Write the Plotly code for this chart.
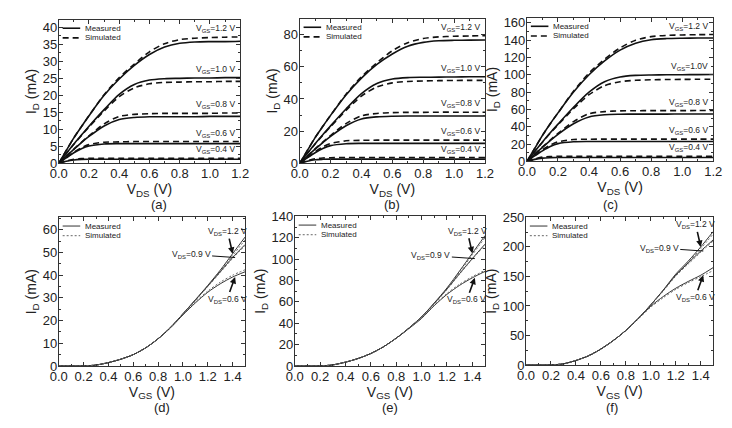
import plotly.graph_objects as go

W, H = 732, 428
FONT = "Liberation Sans, Arial, sans-serif"

# ---------------- Output characteristics (a)-(c) ----------------
vds = [0, 0.05, 0.1, 0.15, 0.2, 0.3, 0.4, 0.5, 0.6, 0.7, 0.8, 0.9, 1.0, 1.1, 1.2]
vgs_labels_abc = ["1.2", "1.0", "0.8", "0.6", "0.4"]

# panel (a)
a_meas_12 = [0, 3.8, 7.5, 10.8, 14.0, 20.0, 24.8, 28.8, 32.0, 34.2, 35.3, 35.7, 35.8, 35.8, 35.9]
a_sim_12 = [0, 3.8, 7.5, 10.8, 14.0, 20.2, 25.2, 29.2, 32.8, 35.2, 36.4, 36.8, 37.0, 37.1, 37.2]
a_meas_10 = [0, 2.9, 5.7, 8.3, 10.9, 15.8, 20.3, 23.2, 24.5, 24.9, 25.0, 25.1, 25.1, 25.2, 25.2]
a_sim_10 = [0, 2.9, 5.6, 8.2, 10.7, 15.4, 19.6, 22.2, 23.4, 23.8, 23.9, 24.0, 24.0, 24.1, 24.1]
a_meas_08 = [0, 2.1, 4.1, 6.1, 7.9, 11.0, 12.9, 13.5, 13.7, 13.7, 13.7, 13.7, 13.8, 13.8, 13.8]
a_sim_08 = [0, 2.1, 4.2, 6.2, 8.1, 11.6, 13.8, 14.4, 14.6, 14.7, 14.7, 14.7, 14.7, 14.8, 14.8]
a_meas_06 = [0, 1.6, 3.1, 4.3, 5.1, 5.7, 5.8, 5.8, 5.8, 5.8, 5.8, 5.8, 5.8, 5.8, 5.8]
a_sim_06 = [0, 1.7, 3.3, 4.6, 5.5, 6.2, 6.3, 6.4, 6.4, 6.4, 6.4, 6.4, 6.4, 6.4, 6.4]
a_meas_04 = [0, 0.6, 1.0, 1.15, 1.2, 1.2, 1.2, 1.2, 1.2, 1.2, 1.2, 1.2, 1.2, 1.2, 1.2]
a_sim_04 = [0, 0.7, 1.2, 1.4, 1.45, 1.5, 1.5, 1.5, 1.5, 1.5, 1.5, 1.5, 1.5, 1.5, 1.5]

# panel (b)
b_meas_12 = [0, 8.0, 16.0, 23.0, 29.8, 42.5, 53.0, 61.5, 68.0, 72.8, 75.2, 76.2, 76.5, 76.6, 76.7]
b_sim_12 = [0, 8.0, 16.0, 23.0, 29.8, 43.0, 53.8, 62.5, 70.0, 75.0, 77.6, 78.6, 79.0, 79.2, 79.4]
b_meas_10 = [0, 6.2, 12.2, 17.8, 23.3, 33.8, 43.3, 49.6, 52.4, 53.3, 53.5, 53.6, 53.7, 53.8, 53.8]
b_sim_10 = [0, 6.2, 12.0, 17.5, 22.8, 32.9, 41.8, 47.5, 50.0, 50.9, 51.2, 51.4, 51.5, 51.6, 51.6]
b_meas_08 = [0, 4.5, 8.8, 12.9, 16.8, 23.4, 27.6, 28.9, 29.3, 29.4, 29.4, 29.4, 29.4, 29.4, 29.4]
b_sim_08 = [0, 4.5, 9.0, 13.2, 17.3, 24.7, 29.5, 31.0, 31.5, 31.7, 31.7, 31.8, 31.8, 31.8, 31.8]
b_meas_06 = [0, 3.4, 6.6, 9.2, 11.0, 12.2, 12.4, 12.4, 12.4, 12.4, 12.4, 12.4, 12.4, 12.4, 12.4]
b_sim_06 = [0, 3.7, 7.2, 10.2, 12.3, 14.0, 14.3, 14.4, 14.4, 14.4, 14.4, 14.4, 14.4, 14.4, 14.4]
b_meas_04 = [0, 1.3, 2.2, 2.5, 2.6, 2.6, 2.6, 2.6, 2.6, 2.6, 2.6, 2.6, 2.6, 2.6, 2.6]
b_sim_04 = [0, 1.6, 2.8, 3.3, 3.5, 3.6, 3.6, 3.6, 3.6, 3.6, 3.6, 3.6, 3.6, 3.6, 3.6]

# panel (c)
c_meas_12 = [0, 15, 30, 43.5, 56, 80, 100, 116, 128.5, 136.5, 140.5, 141.8, 142.2, 142.4, 142.5]
c_sim_12 = [0, 15, 30, 43.5, 56, 81, 102, 118, 131, 140, 144, 145.5, 146, 146.3, 146.5]
c_meas_10 = [0, 11.5, 22.5, 33, 43, 62.5, 80, 92, 97.5, 99.3, 99.8, 100, 100.1, 100.2, 100.3]
c_sim_10 = [0, 11.5, 22.2, 32.5, 42.2, 60.8, 77, 87.5, 92, 93.6, 94.2, 94.5, 94.7, 94.8, 94.9]
c_meas_08 = [0, 8.3, 16.3, 24, 31.3, 43.5, 51.3, 53.8, 54.4, 54.6, 54.6, 54.6, 54.7, 54.7, 54.7]
c_sim_08 = [0, 8.4, 16.7, 24.6, 32.3, 46.0, 55.0, 57.5, 58.3, 58.5, 58.6, 58.6, 58.6, 58.7, 58.7]
c_meas_06 = [0, 6.3, 12.2, 17.2, 20.5, 22.7, 23.0, 23.0, 23.0, 23.0, 23.0, 23.0, 23.0, 23.0, 23.0]
c_sim_06 = [0, 6.8, 13.4, 18.8, 22.6, 25.2, 25.6, 25.7, 25.7, 25.7, 25.7, 25.7, 25.7, 25.7, 25.7]
c_meas_04 = [0, 2.3, 3.8, 4.3, 4.5, 4.5, 4.5, 4.5, 4.5, 4.5, 4.5, 4.5, 4.5, 4.5, 4.5]
c_sim_04 = [0, 2.9, 4.9, 5.6, 5.9, 6.0, 6.0, 6.0, 6.0, 6.0, 6.0, 6.0, 6.0, 6.0, 6.0]

# ---------------- Transfer characteristics (d)-(f) ----------------
vgs = [0, 0.1, 0.2, 0.3, 0.4, 0.5, 0.6, 0.7, 0.8, 0.9, 1.0, 1.1, 1.2, 1.3, 1.4, 1.5]
vds_labels_def = ["1.2", "0.9", "0.6"]

d_meas_12 = [0, 0, 0.05, 0.4, 1.5, 3.0, 5.0, 8.0, 12.0, 17.0, 23.0, 29.2, 35.5, 42.2, 49.5, 56.8]
d_meas_09 = [0, 0, 0.05, 0.4, 1.5, 3.0, 5.0, 8.0, 12.0, 17.0, 23.0, 29.0, 35.2, 41.5, 47.8, 53.5]
d_meas_06 = [0, 0, 0.05, 0.4, 1.5, 3.0, 5.0, 8.0, 12.0, 16.8, 22.5, 27.8, 32.5, 36.2, 39.2, 41.5]
d_sim_12 = [0, 0, 0.05, 0.4, 1.5, 3.0, 5.0, 8.0, 12.0, 17.0, 22.9, 29.0, 35.3, 41.8, 48.6, 55.6]
d_sim_09 = [0, 0, 0.05, 0.4, 1.5, 3.0, 5.0, 8.0, 12.0, 17.0, 22.9, 28.9, 35.0, 41.2, 47.4, 53.0]
d_sim_06 = [0, 0, 0.05, 0.4, 1.5, 3.0, 5.0, 8.0, 12.0, 16.9, 22.8, 28.2, 33.0, 36.9, 40.0, 42.4]

e_meas_12 = [0, 0, 0.1, 1.0, 3.6, 7.0, 11.7, 18.0, 26.0, 35.5, 46.0, 59.0, 73.0, 89.0, 105.5, 122.0]
e_meas_09 = [0, 0, 0.1, 1.0, 3.6, 7.0, 11.7, 18.0, 26.0, 35.5, 46.0, 58.6, 72.0, 86.5, 100.5, 114.0]
e_meas_06 = [0, 0, 0.1, 1.0, 3.6, 7.0, 11.7, 18.0, 26.0, 35.0, 44.5, 56.5, 67.0, 75.5, 82.5, 88.5]
e_sim_12 = [0, 0, 0.1, 1.0, 3.6, 7.0, 11.7, 18.0, 26.0, 35.4, 45.8, 58.5, 72.5, 88.0, 104.0, 120.0]
e_sim_09 = [0, 0, 0.1, 1.0, 3.6, 7.0, 11.7, 18.0, 26.0, 35.4, 45.8, 58.2, 71.5, 86.0, 100.0, 113.0]
e_sim_06 = [0, 0, 0.1, 1.0, 3.6, 7.0, 11.7, 18.0, 26.0, 35.2, 45.0, 57.0, 67.8, 76.5, 83.6, 89.5]

f_meas_12 = [0, 0, 0.2, 2.0, 7.7, 15.5, 27.0, 41.5, 58.5, 79.0, 102.0, 127.0, 154.0, 176.0, 200.0, 226.0]
f_meas_09 = [0, 0, 0.2, 2.0, 7.7, 15.5, 27.0, 41.5, 58.5, 79.0, 102.0, 126.5, 152.0, 173.0, 193.0, 212.0]
f_meas_06 = [0, 0, 0.2, 2.0, 7.7, 15.5, 27.0, 41.5, 58.5, 78.5, 99.5, 116.0, 130.0, 141.5, 152.0, 165.0]
f_sim_12 = [0, 0, 0.2, 2.0, 7.7, 15.5, 27.0, 41.5, 58.5, 79.0, 101.5, 126.0, 152.5, 174.0, 197.0, 222.0]
f_sim_09 = [0, 0, 0.2, 2.0, 7.7, 15.5, 27.0, 41.5, 58.5, 79.0, 101.5, 125.5, 150.5, 171.0, 191.0, 210.0]
f_sim_06 = [0, 0, 0.2, 2.0, 7.7, 15.5, 27.0, 41.5, 58.5, 78.0, 98.0, 114.0, 128.0, 139.5, 149.5, 160.0]

panel_letters = ["(a)", "(b)", "(c)", "(d)", "(e)", "(f)"]
legend_names = ["Measured", "Simulated"]

# ---------------- layout geometry (pixels) ----------------
boxes = {
    1: (51, 237, 13, 162),
    2: (298, 488, 12, 162),
    3: (531, 722, 11, 160),
    4: (51, 242, 218, 372),
    5: (293, 488, 217, 372),
    6: (530, 722, 218, 371),
}
yranges = {1: [0, 42.3], 2: [0, 90], 3: [0, 166], 4: [0, 65.5], 5: [0, 140], 6: [0, 250]}
ydticks = {1: 5, 2: 20, 3: 20, 4: 10, 5: 20, 6: 50}
label_y = {1: 205, 2: 205, 3: 205, 4: 415, 5: 415, 6: 415}

fig = go.Figure()

top_sets = {
    1: [(a_meas_12, a_sim_12), (a_meas_10, a_sim_10), (a_meas_08, a_sim_08), (a_meas_06, a_sim_06), (a_meas_04, a_sim_04)],
    2: [(b_meas_12, b_sim_12), (b_meas_10, b_sim_10), (b_meas_08, b_sim_08), (b_meas_06, b_sim_06), (b_meas_04, b_sim_04)],
    3: [(c_meas_12, c_sim_12), (c_meas_10, c_sim_10), (c_meas_08, c_sim_08), (c_meas_06, c_sim_06), (c_meas_04, c_sim_04)],
}
bot_sets = {
    4: [(d_meas_12, d_sim_12), (d_meas_09, d_sim_09), (d_meas_06, d_sim_06)],
    5: [(e_meas_12, e_sim_12), (e_meas_09, e_sim_09), (e_meas_06, e_sim_06)],
    6: [(f_meas_12, f_sim_12), (f_meas_09, f_sim_09), (f_meas_06, f_sim_06)],
}

def ax_name(i):
    return ("x" if i == 1 else f"x{i}"), ("y" if i == 1 else f"y{i}")

annotations = []
shapes = []

TOP_MEAS = dict(color="#111", width=1.6, shape="spline", smoothing=0.8)
TOP_SIM = dict(color="#111", width=1.6, dash="6px,4px", shape="spline", smoothing=0.8)
BOT_MEAS = dict(color="#333", width=1.0, shape="spline", smoothing=0.8)
BOT_SIM = dict(color="#666", width=1.0, dash="2px,2px", shape="spline", smoothing=0.8)

for i, sets in top_sets.items():
    xa, ya = ax_name(i)
    for k, (m, s) in enumerate(sets):
        fig.add_trace(go.Scatter(x=vds, y=m, mode="lines", name=f"Measured, V_GS={vgs_labels_abc[k]} V",
                                 line=TOP_MEAS, xaxis=xa, yaxis=ya, showlegend=False))
        fig.add_trace(go.Scatter(x=vds, y=s, mode="lines", name=f"Simulated, V_GS={vgs_labels_abc[k]} V",
                                 line=TOP_SIM, xaxis=xa, yaxis=ya, showlegend=False))
        lbl = vgs_labels_abc[k]
        sep = "" if (i == 3 and lbl == "1.0") else " "
        annotations.append(dict(x=vds[-1], y=max(m[-1], s[-1]), xref=xa, yref=ya,
                                text=f"V<sub>GS</sub>={lbl}{sep}V", showarrow=False,
                                xanchor="right", yanchor="bottom", xshift=-3, yshift=1,
                                font=dict(size=8.5, color="#222", family=FONT)))

for i, sets in bot_sets.items():
    xa, ya = ax_name(i)
    for k, (m, s) in enumerate(sets):
        fig.add_trace(go.Scatter(x=vgs, y=m, mode="lines", name=f"Measured, V_DS={vds_labels_def[k]} V",
                                 line=BOT_MEAS, xaxis=xa, yaxis=ya, showlegend=False))
        fig.add_trace(go.Scatter(x=vgs, y=s, mode="lines", name=f"Simulated, V_DS={vds_labels_def[k]} V",
                                 line=BOT_SIM, xaxis=xa, yaxis=ya, showlegend=False))
    idx = vgs.index(1.4)
    m12, m09, m06 = sets[0][0], sets[1][0], sets[2][0]
    fnt = dict(size=8.5, color="#222", family=FONT)
    annotations.append(dict(x=vgs[idx], y=m12[idx], xref=xa, yref=ya, text="V<sub>DS</sub>=1.2 V",
                            showarrow=True, arrowhead=2, arrowsize=0.8, arrowwidth=1.6, arrowcolor="#111",
                            ax=-5, ay=-22, font=fnt))
    annotations.append(dict(x=vgs[idx] + 0.02, y=m09[idx], xref=xa, yref=ya, text="V<sub>DS</sub>=0.9 V",
                            showarrow=True, arrowhead=0, arrowwidth=1.0, arrowcolor="#111",
                            ax=-44, ay=-3, font=fnt))
    annotations.append(dict(x=vgs[idx] + 0.02, y=m06[idx], xref=xa, yref=ya, text="V<sub>DS</sub>=0.6 V",
                            showarrow=True, arrowhead=2, arrowsize=0.8, arrowwidth=1.6, arrowcolor="#111",
                            ax=-8, ay=22, font=fnt))

layout = dict(
    width=W, height=H, margin=dict(l=0, r=0, t=0, b=0),
    paper_bgcolor="white", plot_bgcolor="white",
    font=dict(family=FONT, color="#222", size=13),
    showlegend=False,
)

for i, (l, r, t, b) in boxes.items():
    xa, ya = ax_name(i)
    xkey = "xaxis" if i == 1 else f"xaxis{i}"
    ykey = "yaxis" if i == 1 else f"yaxis{i}"
    top = i <= 3
    common = dict(showline=True, linecolor="#333", linewidth=1, mirror="ticks",
                  ticks="inside", ticklen=4, tickcolor="#333", showgrid=False, zeroline=False,
                  ticklabelstandoff=-2,
                  tickfont=dict(size=13, family=FONT, color="#222"))
    layout[xkey] = dict(domain=[l / W, r / W], anchor=ya,
                        range=[0, 1.2] if top else [0, 1.5], dtick=0.2, tick0=0, tickformat=".1f",
                        minor=dict(ticks="inside", ticklen=2, dtick=0.1, tickcolor="#333"),
                        title=dict(text="V<sub>DS</sub> (V)" if top else "V<sub>GS</sub> (V)",
                                   standoff=0, font=dict(size=14, family=FONT)),
                        **common)
    layout[ykey] = dict(domain=[1 - b / H, 1 - t / H], anchor=xa,
                        range=yranges[i], dtick=ydticks[i], tick0=0,
                        minor=dict(ticks="inside", ticklen=2, dtick=ydticks[i] / 2, tickcolor="#333"),
                        title=dict(text="I<sub>D</sub> (mA)", standoff=2, font=dict(size=14, family=FONT)),
                        **common)
    annotations.append(dict(x=(l + r) / 2 / W, y=1 - label_y[i] / H, xref="paper", yref="paper",
                            text=panel_letters[i - 1], showarrow=False, yanchor="middle",
                            font=dict(size=13, family=FONT, color="#222")))
    pw, ph = r - l, b - t
    style = [TOP_MEAS, TOP_SIM] if top else [BOT_MEAS, BOT_SIM]
    for j, name in enumerate(legend_names):
        yy = 1 - (9 + 10 * j) / ph
        shapes.append(dict(type="line", xref=f"{xa} domain", yref=f"{ya} domain",
                           x0=4 / pw, x1=22 / pw, y0=yy, y1=yy,
                           line=dict(color=style[j]["color"], width=style[j]["width"],
                                     dash=style[j].get("dash", "solid"))))
        annotations.append(dict(x=25 / pw, y=yy, xref=f"{xa} domain", yref=f"{ya} domain",
                                text=name, showarrow=False, xanchor="left", yanchor="middle",
                                font=dict(size=8, family=FONT, color="#222")))

layout["annotations"] = annotations
layout["shapes"] = shapes
fig.update_layout(**layout)
fig.write_html("out.html", config={"displayModeBar": False},
               post_script="document.body.style.margin='0';document.body.style.overflow='hidden';")
